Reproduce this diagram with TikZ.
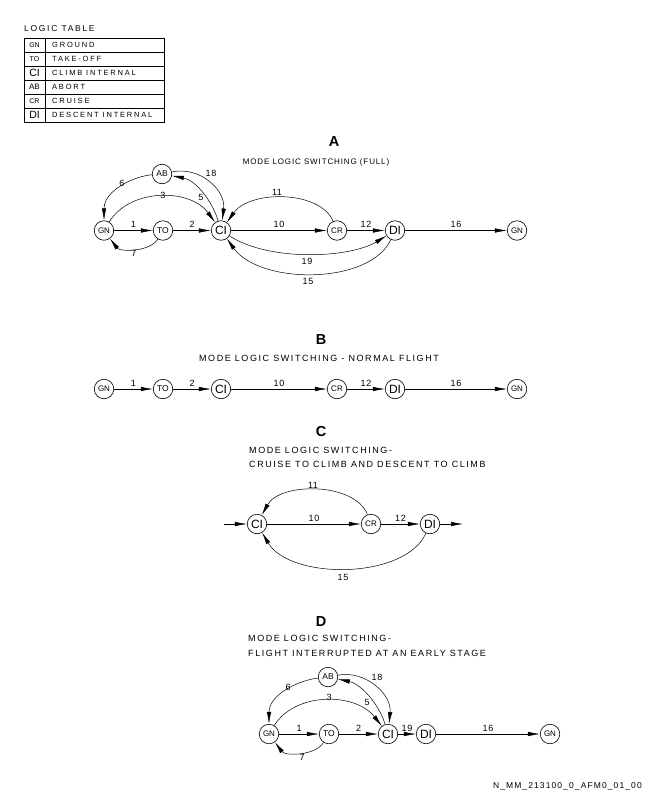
\documentclass[tikz,border=0pt]{standalone}
\usepackage{fontspec}
\setmainfont{Liberation Sans}
\newfontfamily\spa[LetterSpace=11]{Liberation Sans}
\newfontfamily\spb[LetterSpace=17.5]{Liberation Sans}
\newfontfamily\spl[LetterSpace=20]{Liberation Sans}
\newfontfamily\spe[LetterSpace=6]{Liberation Sans}
\newfontfamily\spt[LetterSpace=24]{Liberation Sans}
\newfontfamily\spf[LetterSpace=13]{Liberation Sans}
\usetikzlibrary{arrows.meta}
\begin{document}
\begin{tikzpicture}[x=1pt,y=-1pt,
  st/.style={circle,draw,line width=0.6pt,minimum size=19.5pt,inner sep=0pt},
  gn/.style={st,font=\fontsize{8}{8}\selectfont},
  to/.style={st,font=\fontsize{8.5}{9}\selectfont},
  ci/.style={st,font=\fontsize{12}{12}\selectfont},
  ab/.style={st,font=\fontsize{8.5}{9}\selectfont},
  cr/.style={st,font=\fontsize{8}{8}\selectfont},
  di/.style={st,font=\fontsize{12}{12}\selectfont},
  arr/.style={line width=0.5pt,-{Latex[length=12pt,width=4.5pt]}},
  ln/.style={line width=0.5pt},
  el/.style={font=\spe\fontsize{9}{9}\selectfont,inner sep=0pt},
  ttl/.style={font=\bfseries\fontsize{14.5}{16}\selectfont,inner sep=0pt},
  suba/.style={font=\spa\fontsize{8}{9}\selectfont,inner sep=0pt},
  sub/.style={font=\spb\fontsize{9}{10}\selectfont,inner sep=0pt},
  tb/.style={font=\spt\fontsize{7.5}{8}\selectfont,inner sep=0pt,anchor=west},
  tbs/.style={inner sep=0pt}]
\useasboundingbox (0,0) rectangle (648,792);
% ---------- logic table ----------
\node[anchor=west,inner sep=0pt,font=\spl\fontsize{8.5}{10}\selectfont] (lt) at (24,29) {LOGIC TABLE};
\draw[ln] (24,38) rectangle (164,122);
\draw[ln] (45,38) -- (45,122);
\foreach \yy in {52,66,80,94,108} \draw[ln] (24,\yy) -- (164,\yy);
\node[tbs,font=\fontsize{7}{7}\selectfont] (k1) at (34.5,45) {GN};
\node[tbs,font=\fontsize{7}{7}\selectfont] (k2) at (34.5,59) {TO};
\node[tbs,font=\fontsize{10.5}{11}\selectfont] (k3) at (34.5,73) {CI};
\node[tbs,font=\fontsize{8}{8}\selectfont] (k4) at (34.5,87) {AB};
\node[tbs,font=\fontsize{7}{7}\selectfont] (k5) at (34.5,101) {CR};
\node[tbs,font=\fontsize{10.5}{11}\selectfont] (k6) at (34.5,115) {DI};
\node[tb] (v1) at (52,45) {GROUND};
\node[tb] (v2) at (52,59) {TAKE-OFF};
\node[tb] (v3) at (52,73) {CLIMB INTERNAL};
\node[tb] (v4) at (52,87) {ABORT};
\node[tb] (v5) at (52,101) {CRUISE};
\node[tb] (v6) at (52,115) {DESCENT INTERNAL};
% ---------- A ----------
\node[ttl] (tA) at (334,142) {A};
\node[suba] (sA) at (316,162) {MODE LOGIC SWITCHING (FULL)};
\node[gn] (a1) at (104,230.5) {GN};
\node[to] (a2) at (163,230.5) {TO};
\node[ci] (a3) at (221,230.5) {CI};
\node[cr] (a4) at (337,230.5) {CR};
\node[di] (a5) at (395,230.5) {DI};
\node[gn] (a6) at (517,230.5) {GN};
\node[ab] (a7) at (162,174) {AB};
\draw[arr] (a1) -- node[el,above=2.5pt]{1} (a2);
\draw[arr] (a2) -- node[el,above=2.5pt]{2} (a3);
\draw[arr] (a3) -- node[el,above=2.5pt]{10} (a4);
\draw[arr] (a4) -- node[el,above=2.5pt]{12} (a5);
\draw[arr] (a5) -- node[el,above=2.5pt]{16} (a6);
\draw[arr] (a2) .. controls (150,252) and (120,252) .. (a1);
\draw[arr] (a1) .. controls (130,188) and (190,188) .. (a3);
\draw[arr] (a7) .. controls (135,176) and (104,190) .. (a1);
\draw[arr] (a3) .. controls (212,200) and (195,180) .. (a7);
\draw[arr] (a7) .. controls (200,166) and (226,190) .. (a3);
\draw[arr] (a4) .. controls (320,190) and (250,190) .. (a3);
\draw[arr] (a3) .. controls (270,262) and (350,258) .. (a5);
\draw[arr] (a5) .. controls (370,285) and (260,285) .. (a3);
\node[el] (la7) at (134,253) {7};
\node[el] (la3) at (163,195) {3};
\node[el] (la6) at (122,183) {6};
\node[el] (la5) at (201,197) {5};
\node[el] (la18) at (211,173) {18};
\node[el] (la11) at (277,192) {11};
\node[el] (la19) at (307,261) {19};
\node[el] (la15) at (308,281) {15};
% ---------- B ----------
\node[ttl] (tB) at (321,340) {B};
\node[sub] (sB) at (319,358) {MODE LOGIC SWITCHING - NORMAL FLIGHT};
\node[gn] (b1) at (104,389) {GN};
\node[to] (b2) at (163,389) {TO};
\node[ci] (b3) at (221,389) {CI};
\node[cr] (b4) at (337,389) {CR};
\node[di] (b5) at (395,389) {DI};
\node[gn] (b6) at (517,389) {GN};
\draw[arr] (b1) -- node[el,above=2.5pt]{1} (b2);
\draw[arr] (b2) -- node[el,above=2.5pt]{2} (b3);
\draw[arr] (b3) -- node[el,above=2.5pt]{10} (b4);
\draw[arr] (b4) -- node[el,above=2.5pt]{12} (b5);
\draw[arr] (b5) -- node[el,above=2.5pt]{16} (b6);
% ---------- C ----------
\node[ttl] (tC) at (321,432) {C};
\node[sub,anchor=west] (sC1) at (249,450) {MODE LOGIC SWITCHING-};
\node[sub,anchor=west] (sC2) at (249,464) {CRUISE TO CLIMB AND DESCENT TO CLIMB};
\node[ci] (c1) at (257,524) {CI};
\node[cr] (c2) at (371,524) {CR};
\node[di] (c3) at (430,524) {DI};
\coordinate (cin) at (224,524);
\coordinate (cout) at (463,524);
\draw[arr] (cin) -- (c1);
\draw[arr] (c1) -- node[el,above=2.5pt]{10} (c2);
\draw[arr] (c2) -- node[el,above=2.5pt]{12} (c3);
\draw[arr] (c3) -- (cout);
\draw[arr] (c2) .. controls (355,482) and (280,482) .. (c1);
\draw[arr] (c3) .. controls (405,580) and (290,580) .. (c1);
\node[el] (lc11) at (313,485) {11};
\node[el] (lc15) at (343,577) {15};
% ---------- D ----------
\node[ttl] (tD) at (321,622) {D};
\node[sub,anchor=west] (sD1) at (248,638) {MODE LOGIC SWITCHING-};
\node[sub,anchor=west] (sD2) at (248,653) {FLIGHT INTERRUPTED AT AN EARLY STAGE};
\node[gn] (d1) at (269,734) {GN};
\node[to] (d2) at (329,734) {TO};
\node[ci] (d3) at (388,734) {CI};
\node[di] (d4) at (426,734) {DI};
\node[gn] (d5) at (550,734) {GN};
\node[ab] (d6) at (328,677) {AB};
\draw[arr] (d1) -- node[el,above=2.5pt]{1} (d2);
\draw[arr] (d2) -- node[el,above=2.5pt]{2} (d3);
\draw[arr] (d3) -- node[el,above=2.5pt]{19} (d4);
\draw[arr] (d4) -- node[el,above=2.5pt]{16} (d5);
\draw[arr] (d2) .. controls (315,756) and (285,756) .. (d1);
\draw[arr] (d1) .. controls (295,692) and (355,692) .. (d3);
\draw[arr] (d6) .. controls (300,680) and (269,694) .. (d1);
\draw[arr] (d3) .. controls (379,704) and (361,684) .. (d6);
\draw[arr] (d6) .. controls (365,670) and (392,694) .. (d3);
\node[el] (ld7) at (302,757) {7};
\node[el] (ld3) at (329,697) {3};
\node[el] (ld6) at (288,687) {6};
\node[el] (ld5) at (367,702) {5};
\node[el] (ld18) at (377,677) {18};
% ---------- footer ----------
\node[font=\spf\fontsize{8.5}{9}\selectfont,inner sep=0pt,anchor=east] (ft) at (642,786) {N\_MM\_213100\_0\_AFM0\_01\_00};
\end{tikzpicture}
\end{document}
